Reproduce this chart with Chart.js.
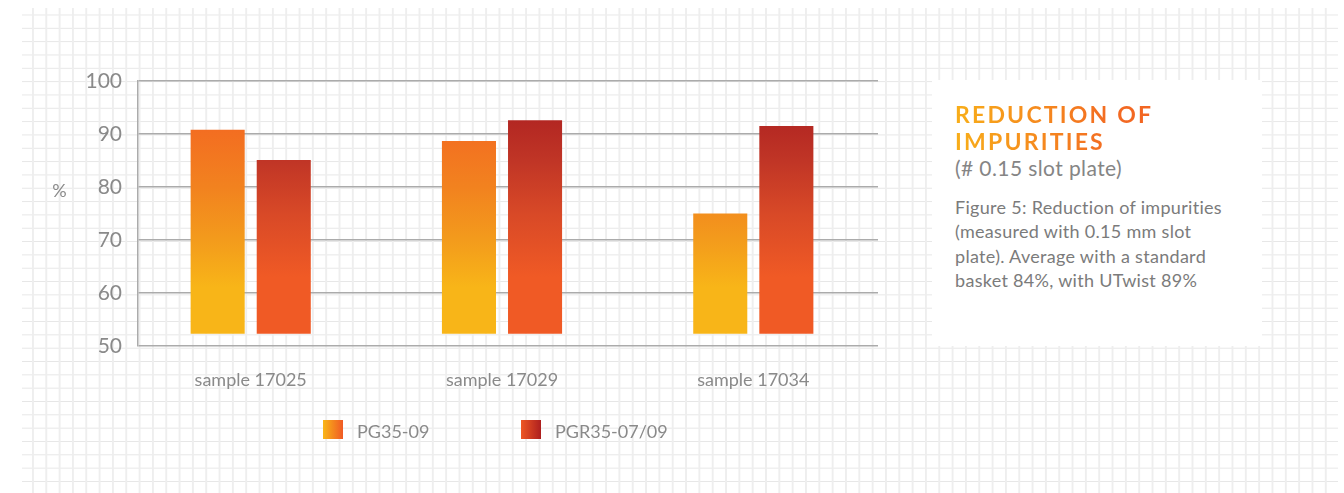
<!DOCTYPE html>
<html>
<head>
<meta charset="utf-8">
<title>Reduction of impurities</title>
<script src="https://cdn.jsdelivr.net/npm/chart.js@4.4.1/dist/chart.umd.min.js"></script>
<style>
  html, body { margin: 0; padding: 0; background: #fff; width: 1344px; height: 493px; overflow: hidden; }
  /* squared paper behind everything */
  #paper {
    position: absolute; left: 22px; top: 8px; width: 1316px; height: 485px;
    background-image:
      linear-gradient(to right, #eeeeee 0, #eeeeee 2px, transparent 2px),
      linear-gradient(to bottom, #e6e6e6 0, #e6e6e6 1.2px, transparent 1.2px);
    background-size: 13.333px 13.333px;
    background-position: 10px 6.5px;
  }
  #chart { position: absolute; left: 0; top: 0; }
  #note {
    position: absolute; left: 932px; top: 80px; width: 330px; height: 266px;
    background: #fff; box-sizing: border-box; padding: 21px 0 0 23px;
    font-family: Lato, "Open Sans", sans-serif;
  }
  #note h2 {
    margin: 0; display: inline-block;
    font-size: 23px; line-height: 27px; font-weight: 700; letter-spacing: 2.2px;
    background: linear-gradient(to right, #f8ae19, #f36a22 80%, #f26522);
    -webkit-background-clip: text; background-clip: text; color: transparent;
  }
  #note .sub { margin: 0; font-size: 21px; line-height: 25px; letter-spacing: 0.4px; color: #858585; }
  #note .body { margin: 15px 0 0 0; font-size: 18px; line-height: 24.3px; letter-spacing: 0.3px; color: #7b7b7b; }
</style>
</head>
<body>
<div id="paper"></div>
<canvas id="chart" width="1344" height="493"></canvas>
<div id="note">
  <h2>REDUCTION OF<br>IMPURITIES</h2>
  <div class="sub">(# 0.15 slot plate)</div>
  <div class="body">Figure 5: Reduction of impurities<br>(measured with 0.15 mm slot<br>plate). Average with a standard<br>basket 84%, with UTwist 89%</div>
</div>
<script>
// ---- data ----
const categories = ['sample 17025', 'sample 17029', 'sample 17034'];
const seriesNames = ['PG35-09', 'PGR35-07/09'];
const pg35 = [90.8, 88.7, 75.0];      // PG35-09, %
const pgr35 = [85.1, 92.6, 91.5];     // PGR35-07/09, %
const barFloor = 52.3;                // bars rise from here, %
const yTicks = [50, 60, 70, 80, 90, 100];

// ---- styling helpers ----
const textGrey = '#8a8a8a';
const lineGrey = '#ababab';

function valueGradient(chart, stops) {
  const { ctx, chartArea, scales } = chart;
  if (!chartArea) return stops[0][1];
  const y = scales.y;
  const y0 = y.getPixelForValue(stops[0][0]);
  const y1 = y.getPixelForValue(stops[stops.length - 1][0]);
  const g = ctx.createLinearGradient(0, y0, 0, y1);
  stops.forEach(([v, c]) => g.addColorStop((y.getPixelForValue(v) - y0) / (y1 - y0), c));
  return g;
}

const pgStops = [[91, '#f36d21'], [80, '#f2821f'], [70, '#f39b1c'], [61, '#f8b518']];
const pgrStops = [[93, '#b22622'], [85, '#c03526'], [75, '#d84927'], [63, '#f05a25']];

const toPoints = vals => vals.map((v, i) => ({ x: i, y: [barFloor, v] }));

// legend drawn as gradient swatches under the plot
const swatchLegend = {
  id: 'swatchLegend',
  afterDraw(chart, args, opts) {
    const { ctx, chartArea } = chart;
    ctx.save();
    chart.data.datasets.forEach((ds, i) => {
      const x = chartArea.left + opts.offset + i * opts.spacing;
      const y = opts.top;
      const g = ctx.createLinearGradient(x, 0, x + opts.box, 0);
      ds.swatch.forEach((c, k) => g.addColorStop(k / (ds.swatch.length - 1), c));
      ctx.fillStyle = g;
      ctx.fillRect(x, y, opts.box, opts.box - 1);
      ctx.fillStyle = textGrey;
      ctx.font = '18px Lato, "Open Sans", sans-serif';
      ctx.textBaseline = 'middle';
      ctx.textAlign = 'left';
      ctx.fillText(ds.label, x + opts.box + 14, y + opts.box / 2 + 2);
    });
    ctx.restore();
  }
};

// upright unit label beside the value axis
const unitLabel = {
  id: 'unitLabel',
  afterDraw(chart, args, opts) {
    const { ctx, scales } = chart;
    ctx.save();
    ctx.fillStyle = textGrey;
    ctx.font = '18px Lato, "Open Sans", sans-serif';
    ctx.textAlign = 'center';
    ctx.textBaseline = 'middle';
    ctx.fillText(opts.text, opts.x, scales.y.getPixelForValue(opts.at));
    ctx.restore();
  }
};

Chart.defaults.font.family = 'Lato, "Open Sans", sans-serif';

new Chart(document.getElementById('chart'), {
  type: 'bar',
  data: {
    datasets: [
      {
        label: seriesNames[0],
        data: toPoints(pg35),
        backgroundColor: c => valueGradient(c.chart, pgStops),
        swatch: ['#f9b617', '#f05a25']
      },
      {
        label: seriesNames[1],
        data: toPoints(pgr35),
        backgroundColor: c => valueGradient(c.chart, pgrStops),
        swatch: ['#ee5724', '#ad1f1f']
      }
    ]
  },
  options: {
    responsive: false,
    animation: false,
    events: [],
    categoryPercentage: 0.526,
    barPercentage: 0.818,
    layout: { padding: { left: 0, top: 81, right: 466, bottom: 87 } },
    plugins: {
      legend: { display: false },
      tooltip: { enabled: false },
      swatchLegend: { offset: 185, spacing: 198, top: 420, box: 20 },
      unitLabel: { text: '%', x: 59.5, at: 79.2 }
    },
    scales: {
      x: {
        type: 'linear',
        offset: false,
        min: -0.4485,
        max: 2.4962,
        afterBuildTicks: s => { s.ticks = categories.map((_, i) => ({ value: i })); },
        afterFit: s => { s.height = 60; },
        grid: { display: false, drawTicks: false, offset: false },
        border: { display: false },
        ticks: {
          autoSkip: false,
          maxRotation: 0,
          padding: 23,
          color: textGrey,
          font: { size: 18 },
          callback: v => categories[v]
        }
      },
      y: {
        min: yTicks[0],
        max: yTicks[yTicks.length - 1],
        afterBuildTicks: s => { s.ticks = yTicks.map(v => ({ value: v })); },
        afterFit: s => { s.width = 138; },
        grid: { color: lineGrey, lineWidth: 1.5, drawTicks: false },
        border: { color: lineGrey, width: 1.5 },
        ticks: { padding: 16, color: textGrey, font: { size: 21 } }
      }
    }
  },
  plugins: [swatchLegend, unitLabel]
});
</script>
</body>
</html>
